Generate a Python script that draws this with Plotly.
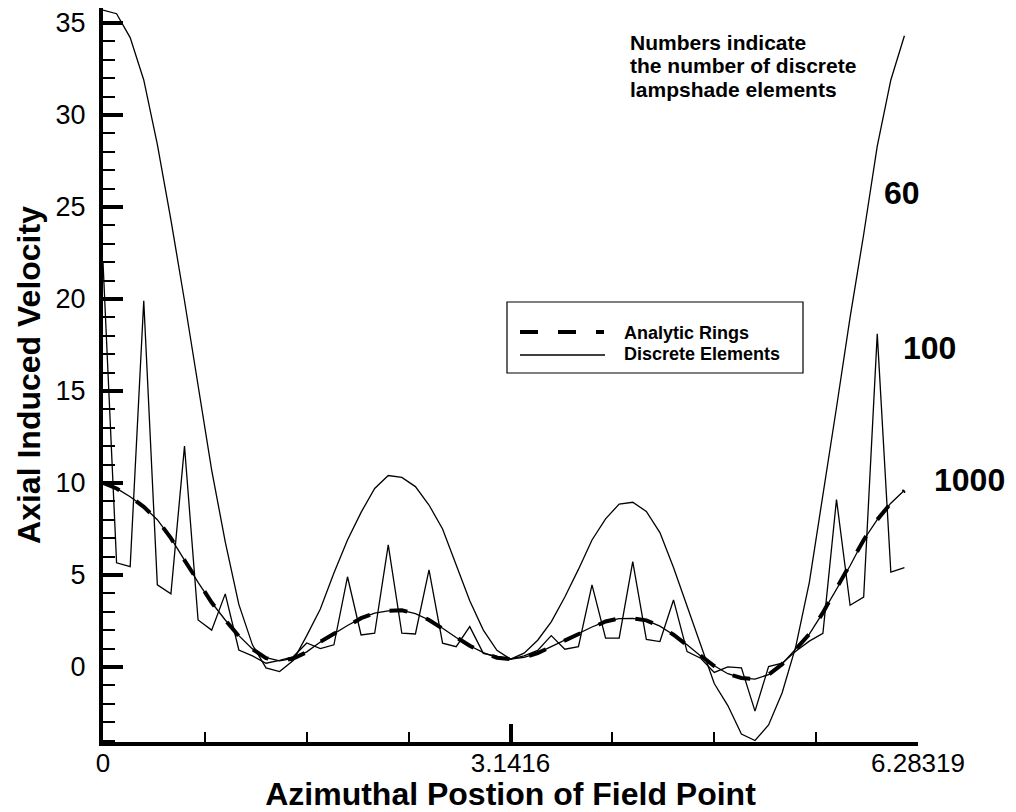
import numpy as np
import plotly.graph_objects as go

# ---------------- data ----------------
azimuth_deg = [0, 6, 12, 18, 24, 30, 36, 42, 48, 54,
               60, 66, 72, 78, 84, 90, 96, 102, 108, 114,
               120, 126, 132, 138, 144, 150, 156, 162, 168, 174,
               180, 186, 192, 198, 204, 210, 216, 222, 228, 234,
               240, 246, 252, 258, 264, 270, 276, 282, 288, 294,
               300, 306, 312, 318, 324, 330, 336, 342, 348, 354]

analytic_rings = [10.0, 9.7, 9.25, 8.7, 8.0, 7.0, 5.8, 4.6, 3.5, 2.55,
                  1.68, 0.97, 0.48, 0.32, 0.46, 0.8, 1.37, 1.8, 2.25, 2.65,
                  2.92, 3.05, 3.08, 2.9, 2.55, 2.1, 1.6, 1.15, 0.77, 0.5,
                  0.42, 0.52, 0.75, 1.1, 1.47, 1.82, 2.17, 2.47, 2.63, 2.64,
                  2.53, 2.22, 1.75, 1.2, 0.6, 0.05, -0.38, -0.6, -0.66, -0.42,
                  0.15, 0.98, 1.78, 2.95, 4.25, 5.5, 6.9, 8.0, 8.9, 9.58]

elements_60 = [35.7, 35.5, 34.2, 31.9, 28.4, 24.3, 19.9, 15.2, 10.7, 6.8,
               3.4, 1.2, -0.05, -0.25, 0.35, 1.7, 3.15, 5.1, 6.9, 8.4,
               9.7, 10.4, 10.3, 9.8, 8.8, 7.5, 5.5, 3.6, 2.0, 0.9,
               0.42, 0.75, 1.45, 2.45, 3.8, 5.3, 6.9, 8.05, 8.85, 8.95,
               8.45, 7.3, 5.4, 3.3, 1.2, -0.9, -2.1, -3.65, -4.0, -3.15,
               -1.4, 1.1, 4.6, 9.3, 14.1, 19.0, 23.5, 28.3, 31.9, 34.3]

elements_100 = [22.0, 5.66, 5.45, 19.9, 4.46, 3.97, 12.0, 2.55, 2.0, 3.97,
                0.92, 0.6, 0.2, 0.35, 0.55, 1.3, 1.0, 1.2, 4.9, 1.74,
                1.83, 6.63, 1.83, 1.79, 5.27, 1.29, 1.1, 2.19, 0.74, 0.56,
                0.42, 0.6, 0.9, 1.7, 0.96, 1.1, 4.46, 1.56, 1.56, 5.72,
                1.5, 1.38, 3.64, 0.83, 0.47, -0.3, 0.0, -0.05, -2.4, 0.02,
                0.2, 0.85, 1.4, 1.83, 9.1, 3.35, 3.8, 18.1, 5.15, 5.4]

elements_1000 = [10.0, 9.7, 9.25, 8.7, 8.0, 7.0, 5.8, 4.6, 3.5, 2.55,
                 1.7, 0.98, 0.5, 0.33, 0.47, 0.82, 1.35, 1.8, 2.25, 2.65,
                 2.92, 3.05, 3.07, 2.9, 2.55, 2.1, 1.6, 1.15, 0.78, 0.5,
                 0.43, 0.52, 0.75, 1.1, 1.47, 1.82, 2.17, 2.47, 2.62, 2.64,
                 2.53, 2.22, 1.75, 1.2, 0.6, 0.06, -0.37, -0.6, -0.66, -0.42,
                 0.16, 0.98, 1.78, 2.95, 4.25, 5.5, 6.9, 8.0, 8.9, 9.6]

x_tickvals = [0, 3.1416, 6.28319]
x_ticktext = ["0", "3.1416", "6.28319"]
curve_labels = ["60", "100", "1000"]
note_lines = ["Numbers indicate", "the number of discrete", "lampshade elements"]
legend_names = ["Analytic Rings", "Discrete Elements"]

x = np.radians(azimuth_deg)

# ---------------- layout helpers ----------------
W, H = 1016, 812
L, R, T, B = 103, 98, 8, 70
PW, PH = W - L - R, H - T - B


def px(xp):
    return (xp - L) / PW


def py(yp):
    return (H - B - yp) / PH


FONT = "Liberation Sans, Arial, Helvetica, sans-serif"
DASH = "18px,20px"

fig = go.Figure()
fig.add_trace(go.Scatter(x=x, y=analytic_rings, mode="lines", name=legend_names[0],
                         line=dict(color="black", width=4, dash=DASH), showlegend=False))
for vals, nm in [(elements_60, "60"), (elements_100, "100"), (elements_1000, "1000")]:
    fig.add_trace(go.Scatter(x=x, y=vals, mode="lines", name=legend_names[1] + " " + nm,
                             line=dict(color="black", width=1.3), showlegend=False))

axis_common = dict(showline=True, linecolor="black", linewidth=4, ticks="inside",
                   tickcolor="black", showgrid=False, zeroline=False, mirror=False)

fig.update_layout(
    width=W, height=H, margin=dict(l=L, r=R, t=T, b=B, autoexpand=False),
    paper_bgcolor="white", plot_bgcolor="white", showlegend=False,
    xaxis=dict(range=[0, 6.28319], tickmode="array", tickvals=x_tickvals, ticktext=x_ticktext,
               ticklen=18, tickwidth=4, ticklabelstandoff=-5,
               tickfont=dict(family=FONT, size=26, color="black"),
               minor=dict(tickmode="linear", tick0=0, dtick=np.pi / 4, ticklen=10, tickwidth=1.5,
                          ticks="inside", tickcolor="black", showgrid=False),
               title=dict(text="Azimuthal Postion of Field Point", standoff=18,
                          font=dict(family=FONT, size=32, color="black", weight="bold")),
               **axis_common),
    yaxis=dict(range=[-4.08, 35.81], tickmode="linear", tick0=0, dtick=5,
               ticklen=20, tickwidth=4, ticklabelstandoff=8,
               tickfont=dict(family=FONT, size=27, color="black"),
               minor=dict(tickmode="linear", tick0=0, dtick=1, ticklen=12, tickwidth=1.5,
                          ticks="inside", tickcolor="black", showgrid=False),
               title=dict(text="Axial Induced Velocity", standoff=6,
                          font=dict(family=FONT, size=32, color="black", weight="bold")),
               **axis_common),
)

annotations = []
# explanatory note
for txt, yc in zip(note_lines, [43, 66, 89]):
    annotations.append(dict(text=txt, x=px(628), y=py(yc), xref="paper", yref="paper",
                            xanchor="left", yanchor="middle", showarrow=False,
                            font=dict(family=FONT, size=21, color="black", weight="bold")))
# curve labels
for txt, (xc, yc) in zip(curve_labels, [(902, 193), (930, 348), (969, 480)]):
    annotations.append(dict(text=txt, x=px(xc), y=py(yc), xref="paper", yref="paper",
                            xanchor="center", yanchor="middle", showarrow=False,
                            font=dict(family=FONT, size=32, color="black", weight="bold")))
# legend texts
for txt, yc in zip(legend_names, [333, 354]):
    annotations.append(dict(text=txt, x=px(622), y=py(yc), xref="paper", yref="paper",
                            xanchor="left", yanchor="middle", showarrow=False,
                            font=dict(family=FONT, size=18, color="black", weight="bold")))
fig.update_layout(annotations=annotations)

# legend box and samples
fig.add_shape(type="rect", xref="paper", yref="paper", x0=px(507), x1=px(803), y0=py(373), y1=py(302),
              line=dict(color="black", width=1.2), fillcolor="white", layer="below")
fig.add_shape(type="line", xref="paper", yref="paper", x0=px(520), x1=px(604), y0=py(332), y1=py(332),
              line=dict(color="black", width=4, dash=DASH))
fig.add_shape(type="line", xref="paper", yref="paper", x0=px(520), x1=px(605), y0=py(355), y1=py(355),
              line=dict(color="black", width=1.3))

fig.write_html("out.html")
